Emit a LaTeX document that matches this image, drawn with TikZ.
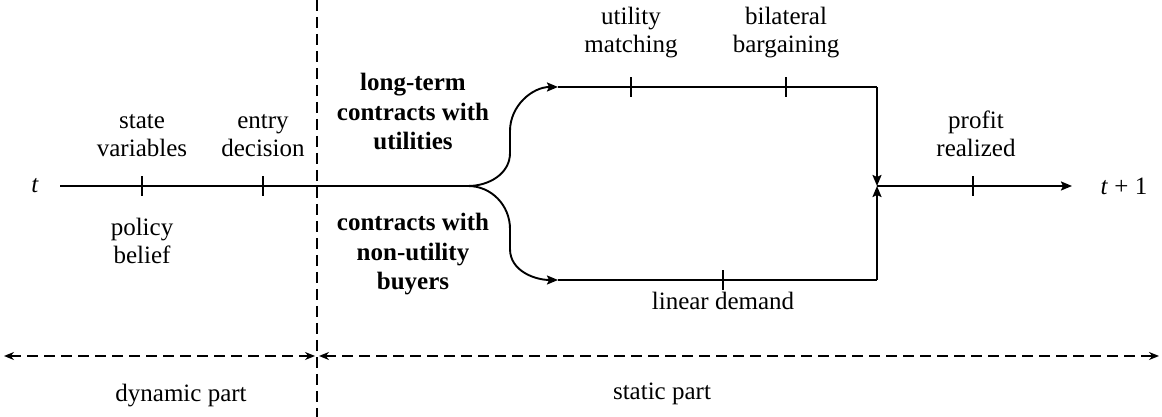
\documentclass[tikz,border=0pt]{standalone}
\usepackage{fontspec}
\setmainfont{Liberation Serif}
\usetikzlibrary{arrows.meta}
\begin{document}
\begin{tikzpicture}[x=1pt,y=1pt,
  ln/.style={line width=1.9pt},
  tip/.style={-{Stealth[length=11pt,width=9pt,inset=2pt]}},
  tick/.style={line width=1.9pt},
  lbl/.style={align=center,font=\fontsize{25}{28}\selectfont,inner sep=0pt},
  blbl/.style={align=center,font=\fontsize{25}{29.5}\selectfont\bfseries,inner sep=0pt},
  dsh/.style={line width=1.9pt,dash pattern=on 11pt off 6pt}]
\useasboundingbox (0,0) rectangle (1162,417);
% coordinates
\coordinate (start) at (60,231);
\coordinate (t1) at (142,231);
\coordinate (t2) at (263,231);
\coordinate (branch) at (468,231);
\coordinate (up0) at (558,330);
\coordinate (lo0) at (558,137);
\coordinate (u1) at (631,330);
\coordinate (u2) at (786,330);
\coordinate (ue) at (877,330);
\coordinate (l1) at (723,137);
\coordinate (le) at (877,137);
\coordinate (join) at (877,231);
\coordinate (r1) at (973,231);
\coordinate (end) at (1072,231);
\coordinate (vtop) at (317,417);
\coordinate (vbot) at (317,0);
\coordinate (dl) at (4,61);
\coordinate (dm) at (317,61);
\coordinate (dr) at (1159,61);
% main line
\draw[ln] (start) -- (branch);
\draw[ln,tip] (branch) to[out=0,in=-90] ++(42,33) -- ++(0,22) to[out=90,in=180] (up0);
\draw[ln,tip] (branch) to[out=0,in=90] ++(42,-43) -- ++(0,-20) to[out=-90,in=180] (lo0);
\draw[ln] (up0) -- (ue);
\draw[ln,tip] (ue) -- (join);
\draw[ln] (lo0) -- (le);
\draw[ln,tip] (le) -- (join);
\draw[ln,tip] (join) -- (end);
% ticks
\foreach \c in {t1,t2,u1,u2,l1,r1}
  \draw[tick] ([yshift=-10pt]\c) -- ([yshift=10pt]\c);
% dashed
\draw[dsh] (vtop) -- (vbot);
\draw[dsh,{Stealth[length=10pt,width=8pt]}-{Stealth[length=10pt,width=8pt]}] (dl) -- ([xshift=-2pt]dm);
\draw[dsh,{Stealth[length=10pt,width=8pt]}-{Stealth[length=10pt,width=8pt]}] ([xshift=2pt]dm) -- (dr);
% labels
\node[lbl] (lt) at (35,231) {\textit{t}};
\node[lbl] (lt1) at (1124,231) {\textit{t} + 1};
\node[lbl,anchor=base] (sv) at (142,260) {state\\variables};
\node[lbl,anchor=base] (ed) at (263,260) {entry\\decision};
\node[lbl,anchor=base] (pb) at (142,153) {policy\\belief};
\node[blbl,anchor=base] (ltc) at (413,267) {long-term\\contracts with\\utilities};
\node[blbl,anchor=base] (nub) at (413,127) {contracts with\\non-utility\\buyers};
\node[lbl,anchor=base] (um) at (631,364) {utility\\matching};
\node[lbl,anchor=base] (bb) at (786,364) {bilateral\\bargaining};
\node[lbl,anchor=base] (ld) at (723,107) {linear demand};
\node[lbl,anchor=base] (pr) at (976,260) {profit\\realized};
\node[lbl,anchor=base] (dp) at (181,15) {dynamic part};
\node[lbl,anchor=base] (sp) at (662,17) {static part};
\end{tikzpicture}
\end{document}
